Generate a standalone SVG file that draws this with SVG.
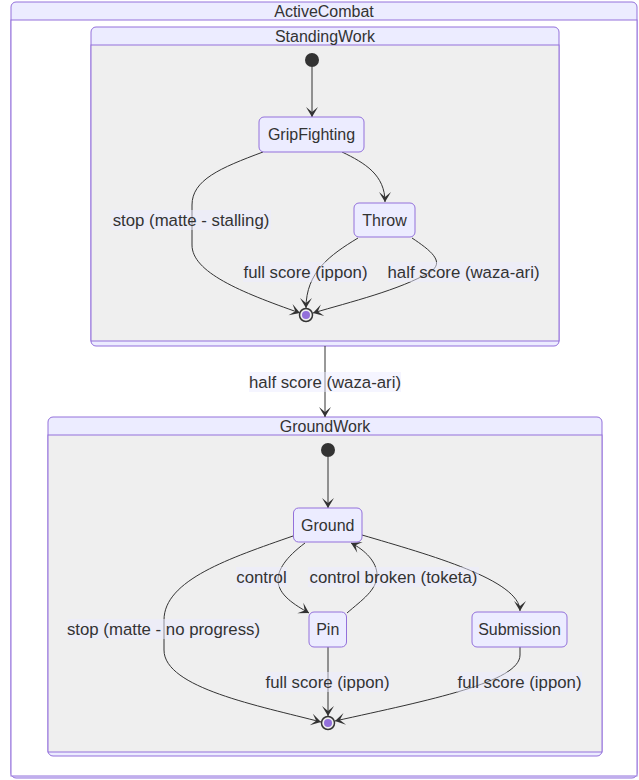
<svg xmlns="http://www.w3.org/2000/svg" width="639" height="780" viewBox="0 0 639 780">
<style>
text{font-family:"Liberation Sans",Arial,sans-serif;font-size:16px;fill:#333;text-anchor:middle;dominant-baseline:central}
text.el{font-size:16.8px}
.cl-out{fill:#ECECFF;stroke:#9370DB;stroke-width:1}
.cl-in{fill:#efefef;stroke:#9370DB;stroke-width:1}
.cl-top{fill:#ffffff;stroke:#9370DB;stroke-width:1}
.node{fill:#ECECFF;stroke:#9370DB;stroke-width:1}
.edge{fill:none;stroke:#333;stroke-width:1;marker-end:url(#barb)}
.lbg{fill:#ECECFF;opacity:0.5}
.start{fill:#333;stroke:none}
.endo{fill:#efefef;stroke:#333;stroke-width:1.5}
.endi{fill:#9370DB;stroke:none}
</style>
<defs>
<marker id="barb" viewBox="0 0 20 14" refX="19" refY="7" markerWidth="20" markerHeight="14" markerUnits="userSpaceOnUse" orient="auto">
<path d="M 19,7 L9,13 L14,7 L9,1 Z" fill="#333"/>
</marker>
</defs>

<g id="ActiveCombat">
<rect class="cl-out" x="11" y="2" width="626" height="776" rx="5"/>
<rect class="cl-top" x="11" y="20" width="626" height="756"/>
<text x="324" y="11">ActiveCombat</text>
</g>

<g id="StandingWork">
<rect class="cl-out" x="91" y="27" width="468" height="319" rx="5"/>
<rect class="cl-in" x="91" y="45" width="468" height="296"/>
<text x="325" y="36">StandingWork</text>
</g>

<g id="GroundWork">
<rect class="cl-out" x="48" y="417" width="554" height="339" rx="5"/>
<rect class="cl-in" x="48" y="435" width="554" height="317"/>
<text x="325" y="426">GroundWork</text>
</g>

<g id="connectors">
<path class="edge" d="M312,67 L312,117"/>
<path class="edge" d="M263,152 C220,168 192,180 192,205 L192,245 C192,272 240,292 300,313"/>
<path class="edge" d="M342,152 C365,163 385,175 385,202"/>
<path class="edge" d="M358,238 C330,255 306,272 306,308"/>
<path class="edge" d="M412,238 C430,250 446,262 430,272 C400,290 350,302 313,313"/>
<path class="edge" d="M325,346 L325,417"/>
<path class="edge" d="M328,457 L328,508"/>
<path class="edge" d="M293,536 C230,558 164,580 164,620 L164,650 C164,688 260,706 321,722"/>
<path class="edge" d="M305,543 C285,558 278,570 278,580 C278,595 295,605 309,613"/>
<path class="edge" d="M347,613 C362,600 377,590 377,575 C377,562 365,550 351,543"/>
<path class="edge" d="M362,535 C430,555 520,580 520,611"/>
<path class="edge" d="M328,647 L328,716"/>
<path class="edge" d="M520,647 L520,655 C520,682 430,700 335,721"/>
</g>

<g id="edge-labels">
<rect class="lbg" x="111" y="210" width="160" height="20"/><text class="el" x="191" y="220">stop (matte - stalling)</text>
<rect class="lbg" x="243" y="262" width="125" height="20"/><text class="el" x="305.5" y="272">full score (ippon)</text>
<rect class="lbg" x="388" y="262" width="151" height="20"/><text class="el" x="463.5" y="272">half score (waza-ari)</text>
<rect class="lbg" x="249" y="372" width="152" height="20"/><text class="el" x="325" y="382">half score (waza-ari)</text>
<rect class="lbg" x="236" y="567" width="51" height="20"/><text class="el" x="261.5" y="577">control</text>
<rect class="lbg" x="308" y="567" width="171" height="20"/><text class="el" x="393.5" y="577">control broken (toketa)</text>
<rect class="lbg" x="68" y="619" width="191" height="20"/><text class="el" x="163.5" y="629">stop (matte - no progress)</text>
<rect class="lbg" x="265" y="672" width="125" height="20"/><text class="el" x="327.5" y="682">full score (ippon)</text>
<rect class="lbg" x="457" y="672" width="125" height="20"/><text class="el" x="519.5" y="682">full score (ippon)</text>
</g>

<g id="sw-start"><circle class="start" cx="312" cy="60" r="7"/></g>
<g id="GripFighting"><rect class="node" x="259" y="117" width="105" height="35" rx="5"/><text x="311.5" y="134.5">GripFighting</text></g>
<g id="Throw"><rect class="node" x="354" y="203" width="61" height="34" rx="5"/><text x="384.5" y="220">Throw</text></g>
<g id="sw-end"><circle class="endo" cx="306" cy="315" r="6.5"/><circle class="endi" cx="306" cy="315" r="4"/></g>

<g id="gw-start"><circle class="start" cx="328" cy="450" r="7"/></g>
<g id="Ground"><rect class="node" x="293.5" y="508" width="68.5" height="34" rx="5"/><text x="327.75" y="525">Ground</text></g>
<g id="Pin"><rect class="node" x="309" y="612" width="37.5" height="35" rx="5"/><text x="327.75" y="629.5">Pin</text></g>
<g id="Submission"><rect class="node" x="472" y="612" width="95" height="35" rx="5"/><text x="519.5" y="629.5">Submission</text></g>
<g id="gw-end"><circle class="endo" cx="328" cy="723" r="6.5"/><circle class="endi" cx="328" cy="723" r="4"/></g>
</svg>
